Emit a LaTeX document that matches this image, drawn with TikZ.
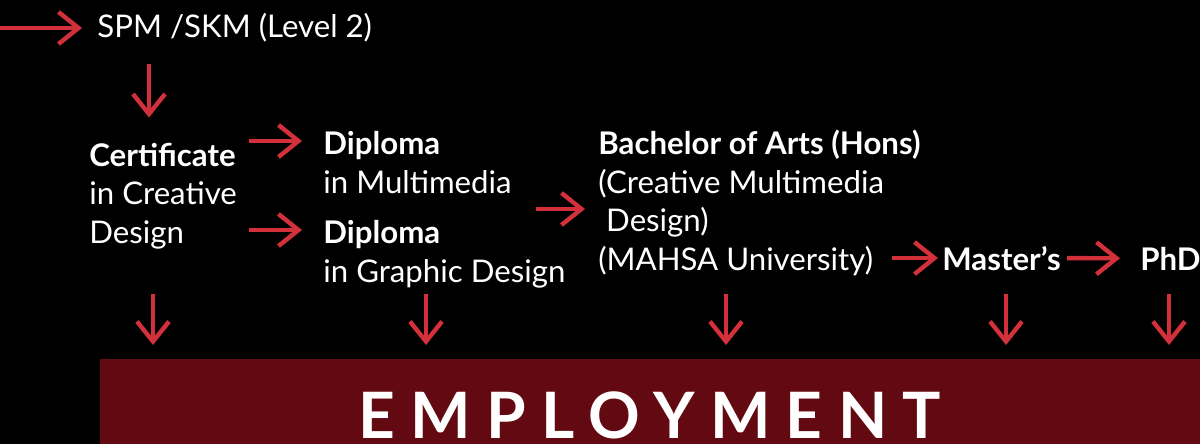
\documentclass[tikz,border=0pt]{standalone}
\usepackage{fontspec}
\setmainfont{Lato}
\usetikzlibrary{arrows.meta}
\usetikzlibrary{calc}
\usetikzlibrary{positioning}

\definecolor{arrowred}{HTML}{D2303A}
\definecolor{employred}{HTML}{630912}

\begin{document}
\begin{tikzpicture}[x=0.5pt,y=-0.5pt,
    every node/.style={text=white,inner sep=0pt,align=left,
      font=\fontsize{15.6}{19.2}\selectfont},
    flow/.style={draw=arrowred,line width=2.2pt,
      -{Straight Barb[length=10pt,width=16pt,line width=2.2pt]}},
    down/.style={flow,shorten >=7pt}]

  \fill [black] (0,0) rectangle (1200,444);
  \useasboundingbox (0,0) rectangle (1200,444);

  % text blocks (base = last line)
  \node [anchor=base west] (spm) at (97,38) {SPM /SKM (Level 2)};
  \node [anchor=base west] (cert) at (89,243)
    {\textbf{Certificate}\\in Creative\\Design};
  \node [anchor=base west] (dipA) at (323,193)
    {\textbf{Diploma}\\in Multimedia};
  \node [anchor=base west] (dipB) at (323,282)
    {\textbf{Diploma}\\in Graphic Design};
  \node [anchor=base west] (ba) at (598,270)
    {\textbf{Bachelor of Arts (Hons)}\\(Creative Multimedia\\
     \hspace{0.25em}Design)\\(MAHSA University)};
  \node [anchor=base west,font=\fontsize{15.6}{19.2}\selectfont\bfseries] (ms) at (942,270) {Master’s};
  \node [anchor=base west,font=\fontsize{15.6}{19.2}\selectfont\bfseries] (phd) at (1140,270) {PhD};

  \node [fill=employred,anchor=north west,minimum width=550pt,minimum height=42.5pt] (emp) at (100,359) {};
  \node [anchor=base,text depth=0pt,font=\fontsize{32}{32}\selectfont\bfseries\addfontfeature{LetterSpace=24}] (emptext) at (650,438) {EMPLOYMENT};

  % connectors
  \coordinate (in) at (0,28);
  \draw [flow,shorten >=7.5pt] (in) -- (in -| spm.west);

  \draw [flow] ($(spm.south west)+(52,21)$) -- ($(cert.north west)+(60,-25)$);

  \coordinate (dipAin) at ($(dipA.north west)+(0,10)$);
  \coordinate (dipBin) at ($(dipB.north west)+(0,10)$);
  \draw [flow,shorten <=6pt,shorten >=10.5pt] (cert.east |- dipAin) -- (dipAin);
  \draw [flow,shorten <=6pt,shorten >=10.5pt] (cert.east |- dipBin) -- (dipBin);

  \coordinate (bain) at (ba.west |- 0,209);
  \draw [flow,shorten <=12pt,shorten >=6.5pt] (dipA.east |- bain) -- (bain);

  \draw [flow,shorten >=2pt] ($(ms.west)+(-50,0)$) -- (ms.west);
  \draw [flow,shorten <=3pt,shorten >=10pt] (ms.east) -- (phd.west);

  % down to employment
  \coordinate (dn1) at (153,294);
  \coordinate (dn2) at (426,294);
  \coordinate (dn3) at (726,294);
  \coordinate (dn4) at (1006,294);
  \coordinate (dn5) at (1169,294);
  \foreach \d in {dn1,dn2,dn3,dn4,dn5}
    \draw [down] (\d) -- (\d |- emp.north);

\end{tikzpicture}
\end{document}
